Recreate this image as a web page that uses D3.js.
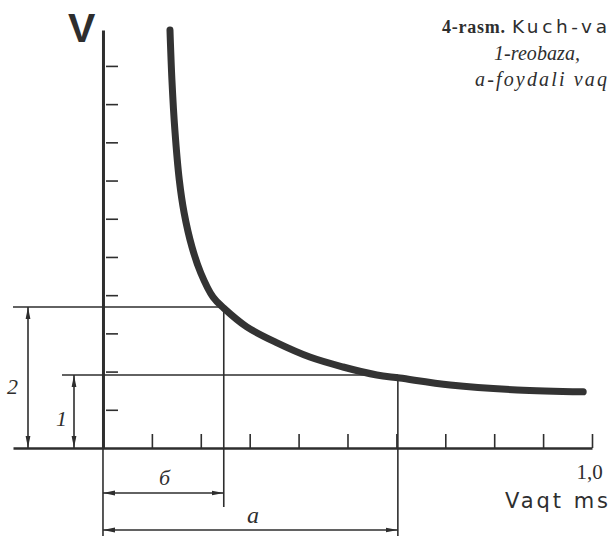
<!DOCTYPE html>
<html>
<head>
<meta charset="utf-8">
<style>
  body { margin: 0; background: #fff; }
  svg { display: block; }
  .ink { stroke: #2e2e2e; fill: none; }
</style>
</head>
<body>
<div id="chart"></div>
<script src="https://d3js.org/d3.v7.min.js"></script>
<script>
// strength - duration curve
var curveTime = [0.137, 0.141, 0.147, 0.156, 0.166, 0.182, 0.200, 0.225, 0.247, 0.294, 0.356, 0.423, 0.491, 0.560, 0.607, 0.710, 0.847, 0.982];
var curveVolt = [10.94, 9.63, 8.32, 7.02, 6.15, 5.26, 4.58, 3.95, 3.66, 3.17, 2.75, 2.38, 2.12, 1.91, 1.83, 1.65, 1.52, 1.47];
var timeTicks = [0.1, 0.2, 0.3, 0.4, 0.5, 0.6, 0.7, 0.8, 0.9, 1.0];
var voltTicks = [1, 2, 3, 4, 5, 6, 7, 8, 9, 10];
var timeLabels = [1.0];
var rheobase = 1.91;        // 1
var doubleRheobase = 3.69;  // 2
var chronaxie = 0.247;      // б
var usefulTime = 0.603;     // a
var captionLines = ["4-rasm.", "Kuch-va", "1-reobaza,", "a-foydali vaq"];

var w = 609, h = 536;
var ink = "#2e2e2e";

// scales: x axis line runs a bit left of the origin, y axis up to the top of the curve
var xScale = d3.scaleLinear().domain([-0.184, 1]).range([13, 592]);
var yScale = d3.scaleLinear().domain([0, 10.94]).range([448, 30]);

var svg = d3.select("#chart").append("svg")
  .attr("width", w).attr("height", h);

var defs = svg.append("defs");
defs.append("marker")
  .attr("id", "arr")
  .attr("viewBox", "0 0 12 6")
  .attr("refX", 12).attr("refY", 3)
  .attr("markerWidth", 12).attr("markerHeight", 6)
  .attr("markerUnits", "userSpaceOnUse")
  .attr("orient", "auto-start-reverse")
  .append("path")
  .attr("d", "M0,0.6 L12,3 L0,5.4 Z")
  .attr("fill", ink);

var x0 = xScale(0), y0 = yScale(0);

// y axis
var yAxis = d3.axisRight(yScale).tickValues(voltTicks).tickSize(15).tickSizeOuter(0).tickFormat("");
var gy = svg.append("g").attr("transform", "translate(" + x0 + ",0)").call(yAxis);
gy.select(".domain").attr("stroke", ink).attr("stroke-width", 3);
gy.selectAll(".tick line").attr("stroke", ink).attr("stroke-width", 1.6).attr("x1", 3);

// y axis continues thin below the origin
svg.append("line").attr("class", "ink")
  .attr("x1", x0).attr("x2", x0).attr("y1", y0).attr("y2", h)
  .attr("stroke-width", 1.6);

// x axis
var xAxis = d3.axisTop(xScale).tickValues(timeTicks).tickSize(14).tickSizeOuter(0).tickFormat("");
var gx = svg.append("g").attr("transform", "translate(0," + y0 + ")").call(xAxis);
gx.select(".domain").attr("stroke", ink).attr("stroke-width", 2.6);
gx.selectAll(".tick line").attr("stroke", ink).attr("stroke-width", 1.6);

var commaFmt = d3.formatLocale({decimal: ",", thousands: " ", grouping: [3], currency: ["", ""]}).format(".1f");
var gl = svg.append("g").attr("transform", "translate(0," + y0 + ")")
  .call(d3.axisBottom(xScale).tickValues(timeLabels).tickSize(0).tickFormat(commaFmt));
gl.select(".domain").remove();
gl.selectAll("text")
  .attr("y", 31).attr("dy", null).attr("dx", -3)
  .attr("fill", ink)
  .style("font-family", "'Liberation Serif', serif")
  .style("font-size", "21px");

// reference lines
var yR = yScale(rheobase), y2R = yScale(doubleRheobase);
var xC = xScale(chronaxie), xA = xScale(usefulTime);

svg.append("line").attr("class", "ink").attr("stroke-width", 1.6)
  .attr("x1", 13).attr("x2", xC).attr("y1", y2R).attr("y2", y2R);
svg.append("line").attr("class", "ink").attr("stroke-width", 1.6)
  .attr("x1", 62).attr("x2", xA).attr("y1", yR).attr("y2", yR);
svg.append("line").attr("class", "ink").attr("stroke-width", 1.6)
  .attr("x1", xC).attr("x2", xC).attr("y1", y2R).attr("y2", y0 + 59);
svg.append("line").attr("class", "ink").attr("stroke-width", 1.6)
  .attr("x1", xA).attr("x2", xA).attr("y1", yR).attr("y2", h);

// dimension arrows
function dim(x1, y1, x2, y2) {
  svg.append("line").attr("class", "ink").attr("stroke-width", 1.6)
    .attr("x1", x1).attr("y1", y1).attr("x2", x2).attr("y2", y2)
    .attr("marker-start", "url(#arr)").attr("marker-end", "url(#arr)");
}
dim(28, y2R, 28, y0);
dim(74, yR, 74, y0);
dim(x0, y0 + 45, xC, y0 + 45);
dim(x0, y0 + 82, xA, y0 + 82);

// the curve
var pts = curveTime.map(function(t, i) { return [t, curveVolt[i]]; });
var line = d3.line()
  .x(function(d) { return xScale(d[0]); })
  .y(function(d) { return yScale(d[1]); })
  .curve(d3.curveCatmullRom.alpha(0.5));
svg.append("path")
  .datum(pts)
  .attr("fill", "none")
  .attr("stroke", "#333")
  .attr("stroke-width", 7)
  .attr("stroke-linecap", "round")
  .attr("d", line);

// labels
function label(txt, x, y, size, fam, style, weight, len) {
  var t = svg.append("text")
    .attr("x", x).attr("y", y)
    .attr("fill", ink)
    .style("font-family", fam)
    .style("font-size", size + "px")
    .style("font-style", style || "normal")
    .style("font-weight", weight || "normal")
    .text(txt);
  if (len) t.attr("textLength", len).attr("lengthAdjust", "spacing");
  return t;
}
var serif = "'Liberation Serif', serif", sans = "'DejaVu Sans', sans-serif";

label("V", 68, 42, 41, "'Liberation Sans', sans-serif", null, "bold");
label("2", 7, 394, 22, serif, "italic");
label("1", 56, 426, 22, serif, "italic");
label("б", 159, 485, 22, serif, "italic");
label("a", 247, 523, 24, serif, "italic");
label("Vaqt ms", 505, 508, 21, sans, null, null, 103);

label(captionLines[0], 442, 33, 18, serif, null, "bold", 63);
label(captionLines[1], 512, 33, 18.5, sans, null, null, 95);
label(captionLines[2], 494, 60, 20, serif, "italic", null, 86);
label(captionLines[3], 475, 86, 20, serif, "italic", null, 132);
</script>
</body>
</html>
